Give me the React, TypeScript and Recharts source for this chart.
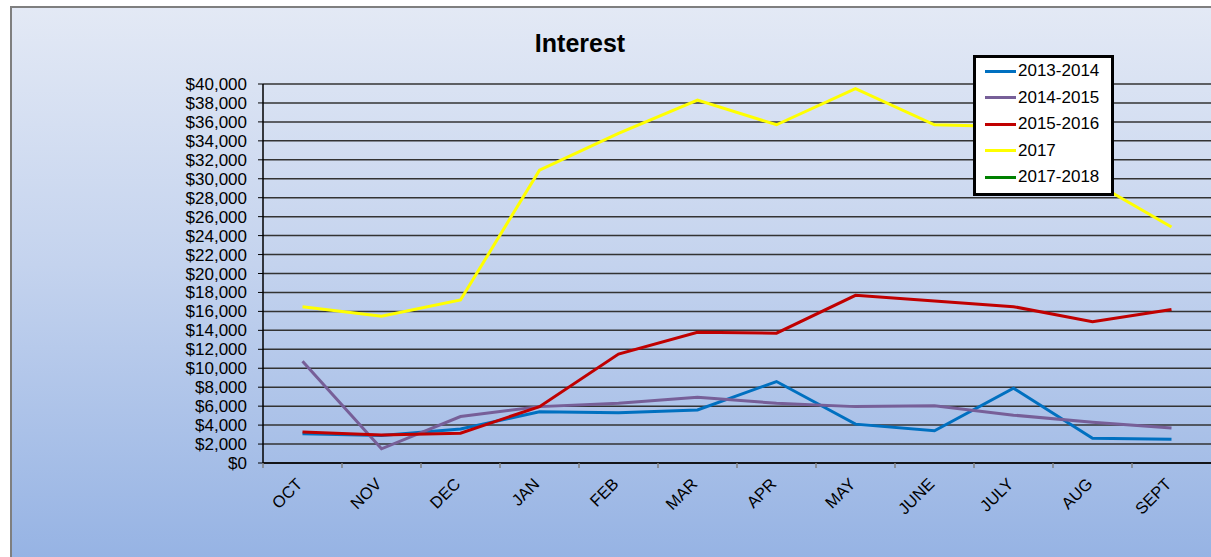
import React from 'react';
import { LineChart, Line, XAxis, YAxis, CartesianGrid, Legend } from 'recharts';

const months = ['OCT', 'NOV', 'DEC', 'JAN', 'FEB', 'MAR', 'APR', 'MAY', 'JUNE', 'JULY', 'AUG', 'SEPT'];

const fy1314 = [3100, 2900, 3600, 5400, 5300, 5600, 8600, 4100, 3400, 7900, 2600, 2500];
const fy1415 = [10750, 1500, 4900, 5950, 6300, 6950, 6300, 5950, 6050, 5050, 4300, 3700];
const fy1516 = [3270, 2950, 3150, 5950, 11500, 13800, 13700, 17700, 17100, 16500, 14900, 16200];
const y2017 = [16500, 15500, 17200, 30900, 34800, 38300, 35700, 39500, 35700, 35500, 29700, 24900];
const fy1718: (number | null)[] = [null, null, null, null, null, null, null, null, null, null, null, null];

const yTicks = [0, 2000, 4000, 6000, 8000, 10000, 12000, 14000, 16000, 18000, 20000,
  22000, 24000, 26000, 28000, 30000, 32000, 34000, 36000, 38000, 40000];

const series = [
  { key: 'fy1314', name: '2013-2014', color: '#0070c0' },
  { key: 'fy1415', name: '2014-2015', color: '#775f98' },
  { key: 'fy1516', name: '2015-2016', color: '#c00000' },
  { key: 'y2017', name: '2017', color: '#ffff00' },
  { key: 'fy1718', name: '2017-2018', color: '#008000' },
];

const data = months.map((m, i) => ({
  month: m,
  fy1314: fy1314[i],
  fy1415: fy1415[i],
  fy1516: fy1516[i],
  y2017: y2017[i],
  fy1718: fy1718[i],
}));

const FONT = '"Liberation Sans", Arial, sans-serif';

// Excel style: tick marks sit on the category boundaries, labels slanted
function MonthTick(props: any) {
  const { x, y, payload } = props;
  const half = payload.offset ?? 0;
  return (
    <g>
      <line x1={x - half} x2={x - half} y1={y - 5} y2={y} stroke="#808080" strokeWidth={1.5} />
      <text
        x={x + 1}
        y={y + 17}
        textAnchor="end"
        fontSize={16.5}
        fontFamily={FONT}
        fill="#000"
        transform={`rotate(-45, ${x + 1}, ${y + 17})`}
      >
        {payload.value}
      </text>
    </g>
  );
}

function LegendBox({ payload }: any) {
  return (
    <div
      style={{
        border: '3px solid #000',
        background: '#fff',
        padding: '0 6px 2px 9px',
        fontFamily: FONT,
        fontSize: 17,
        color: '#000',
        boxSizing: 'border-box',
        width: 141,
      }}
    >
      {(payload || []).map((p: any) => (
        <div key={p.value} style={{ display: 'flex', alignItems: 'center', height: 26.5 }}>
          <span style={{ width: 31, height: 3, background: p.color, marginRight: 2, flex: 'none' }} />
          <span>{p.value}</span>
        </div>
      ))}
    </div>
  );
}

export default function App() {
  return (
    <div
      style={{
        position: 'absolute',
        left: 0,
        top: 0,
        width: 1211,
        height: 557,
        overflow: 'hidden',
        background: '#fff',
        fontFamily: FONT,
      }}
    >
      <div
        style={{
          position: 'absolute',
          left: 10,
          top: 6,
          width: 1220,
          height: 570,
          border: '2px solid #7f7f7f',
          background: 'linear-gradient(to bottom, #e3e9f5 0%, #c4d3ee 45%, #93b1e3 100%)',
        }}
      />
      <div
        style={{
          position: 'absolute',
          left: 480,
          width: 200,
          top: 28,
          textAlign: 'center',
          fontSize: 25,
          lineHeight: '30px',
          fontWeight: 'bold',
          color: '#000',
        }}
      >
        Interest
      </div>
      <div style={{ position: 'absolute', left: 0, top: 0 }}>
        <LineChart
          width={1211}
          height={557}
          data={data}
          margin={{ top: 84, right: 0, bottom: 34, left: 183 }}
        >
          <CartesianGrid vertical={false} stroke="#333" strokeWidth={1.5} />
          <XAxis
            dataKey="month"
            scale="band"
            height={60}
            interval={0}
            axisLine={{ stroke: '#000', strokeWidth: 1.5 }}
            tickLine={false}
            tickSize={5}
            tickMargin={0}
            tick={<MonthTick />}
          />
          <YAxis
            width={80}
            domain={[0, 40000]}
            ticks={yTicks}
            interval={0}
            axisLine={{ stroke: '#000', strokeWidth: 1.5 }}
            tickLine={{ stroke: '#000' }}
            tickSize={5}
            tickMargin={11}
            tick={{ fill: '#000', fontSize: 17, fontFamily: FONT }}
            tickFormatter={(v: number) => `$${v.toLocaleString('en-US')}`}
          />
          {series.map((s) => (
            <Line
              key={s.key}
              type="linear"
              dataKey={s.key}
              name={s.name}
              stroke={s.color}
              strokeWidth={3}
              dot={false}
              activeDot={false}
              isAnimationActive={false}
            />
          ))}
          <Legend
            layout="horizontal"
            verticalAlign="middle"
            align="center"
            content={<LegendBox />}
            wrapperStyle={{ left: 973, top: 55, width: 141, height: 'auto' }}
          />
        </LineChart>
      </div>
    </div>
  );
}
